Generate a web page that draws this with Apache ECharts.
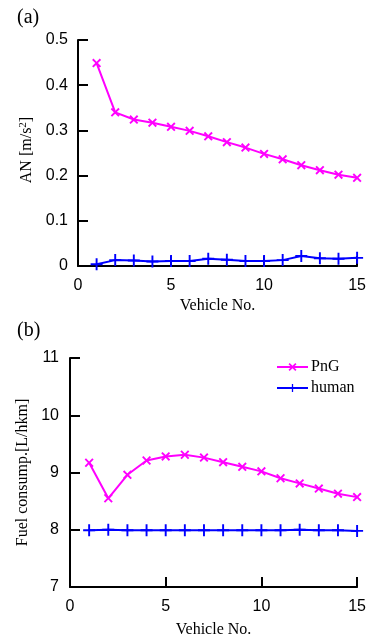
<!DOCTYPE html>
<html>
<head>
<meta charset="utf-8">
<script src="https://cdn.jsdelivr.net/npm/echarts@6/dist/echarts.min.js"></script>
<style>html,body{margin:0;padding:0;background:#fff}#c{width:369px;height:642px}</style>
</head>
<body>
<div id="c"></div>
<script>
const vehicles = [1,2,3,4,5,6,7,8,9,10,11,12,13,14,15];
const anPnG   = [0.449,0.340,0.324,0.317,0.308,0.299,0.287,0.274,0.262,0.248,0.236,0.223,0.212,0.202,0.195];
const anHuman = [0.004,0.013,0.012,0.010,0.011,0.011,0.016,0.014,0.011,0.011,0.013,0.022,0.017,0.016,0.018];
const fuelPnG   = [9.17,8.55,8.96,9.21,9.28,9.31,9.26,9.18,9.10,9.02,8.90,8.81,8.72,8.63,8.57];
const fuelHuman = [7.99,8.00,7.99,7.99,7.99,7.99,7.99,7.99,7.99,7.99,7.99,8.00,7.99,7.99,7.98];
const xTicks = [0,5,10,15];
const anTicks = [0,0.1,0.2,0.3,0.4,0.5];
const fuelTicks = [7,8,9,10,11];

const MAG = '#ff00ff', BLUE = '#0000ff';
const X_SYM = 'path://M0,1.5L1.5,0L5,3.5L8.5,0L10,1.5L6.5,5L10,8.5L8.5,10L5,6.5L1.5,10L0,8.5L3.5,5Z';
const P_SYM = 'path://M4.2,0H5.8V4.2H10V5.8H5.8V10H4.2V5.8H0V4.2H4.2Z';
const pairs = (ys) => vehicles.map((v,i)=>[v, ys[i]]);

const sansLabel = {fontFamily:'Liberation Sans', fontSize:16, color:'#000'};
const serifName = {fontFamily:'Liberation Serif', fontSize:16, color:'#000'};
const axisLine = {show:true, lineStyle:{color:'#000', width:2}};
const axisTick = {show:true, inside:true, length:10, lineStyle:{color:'#000', width:2}};

function xAxis(gi){
  return {type:'value', gridIndex:gi, min:0, max:15, interval:5,
    axisLine, axisTick, splitLine:{show:false},
    axisLabel:Object.assign({margin:12, showMinLabel:true, showMaxLabel:true}, sansLabel),
    name:'Vehicle No.', nameLocation:'middle', nameGap: gi===0?32:35, nameTextStyle:serifName};
}

const option = {
  animation:false,
  backgroundColor:'#fff',
  title:[
    {text:'(a)', left:12, top:3, textStyle:{fontFamily:'Liberation Serif', fontSize:20, fontWeight:'normal', color:'#000'}},
    {text:'(b)', left:12, top:316, textStyle:{fontFamily:'Liberation Serif', fontSize:20, fontWeight:'normal', color:'#000'}}
  ],
  legend:{
    data:['PnG','human'], orient:'vertical', left:276, top:359, padding:0,
    itemWidth:31, itemHeight:10, itemGap:5,
    textStyle:{fontFamily:'Liberation Serif', fontSize:16, color:'#000', padding:[0,0,0,-2]},
    selectedMode:false
  },
  grid:[
    {left:78, top:40, width:280, height:226},
    {left:70, top:358, width:288, height:229}
  ],
  xAxis:[xAxis(0), xAxis(1)],
  yAxis:[
    {type:'value', gridIndex:0, min:0, max:0.5, interval:0.1,
      axisLine, axisTick, splitLine:{show:false},
      axisLabel:Object.assign({margin:10, formatter:(v)=> v===0?'0':v.toFixed(1)}, sansLabel),
      name:'{n|AN [m/s}{s|2}{n|]}', nameLocation:'middle', nameGap:40,
      nameTextStyle:{padding:[0,0,0,6], rich:{n:serifName, s:{fontFamily:'Liberation Serif', fontSize:11, color:'#000', verticalAlign:'top', padding:[0,0,8,0]}}}},
    {type:'value', gridIndex:1, min:7, max:11, interval:1,
      axisLine, axisTick, splitLine:{show:false},
      axisLabel:Object.assign({margin:11}, sansLabel),
      name:'Fuel consump.[L/hkm]', nameLocation:'middle', nameGap:29, nameTextStyle:serifName}
  ],
  series:[
    {name:'PnG', type:'line', xAxisIndex:0, yAxisIndex:0, data:pairs(anPnG),
      symbol:X_SYM, symbolSize:9, lineStyle:{color:MAG, width:2}, itemStyle:{color:MAG}},
    {name:'human', type:'line', xAxisIndex:0, yAxisIndex:0, data:pairs(anHuman),
      symbol:P_SYM, symbolSize:12, lineStyle:{color:BLUE, width:2}, itemStyle:{color:BLUE}},
    {name:'PnG', type:'line', xAxisIndex:1, yAxisIndex:1, data:pairs(fuelPnG),
      symbol:X_SYM, symbolSize:9, lineStyle:{color:MAG, width:2}, itemStyle:{color:MAG}},
    {name:'human', type:'line', xAxisIndex:1, yAxisIndex:1, data:pairs(fuelHuman),
      symbol:P_SYM, symbolSize:12, lineStyle:{color:BLUE, width:2}, itemStyle:{color:BLUE}}
  ]
};
const chart = echarts.init(document.getElementById('c'), null, {renderer:'canvas'});
chart.setOption(option);
</script>
</body>
</html>
